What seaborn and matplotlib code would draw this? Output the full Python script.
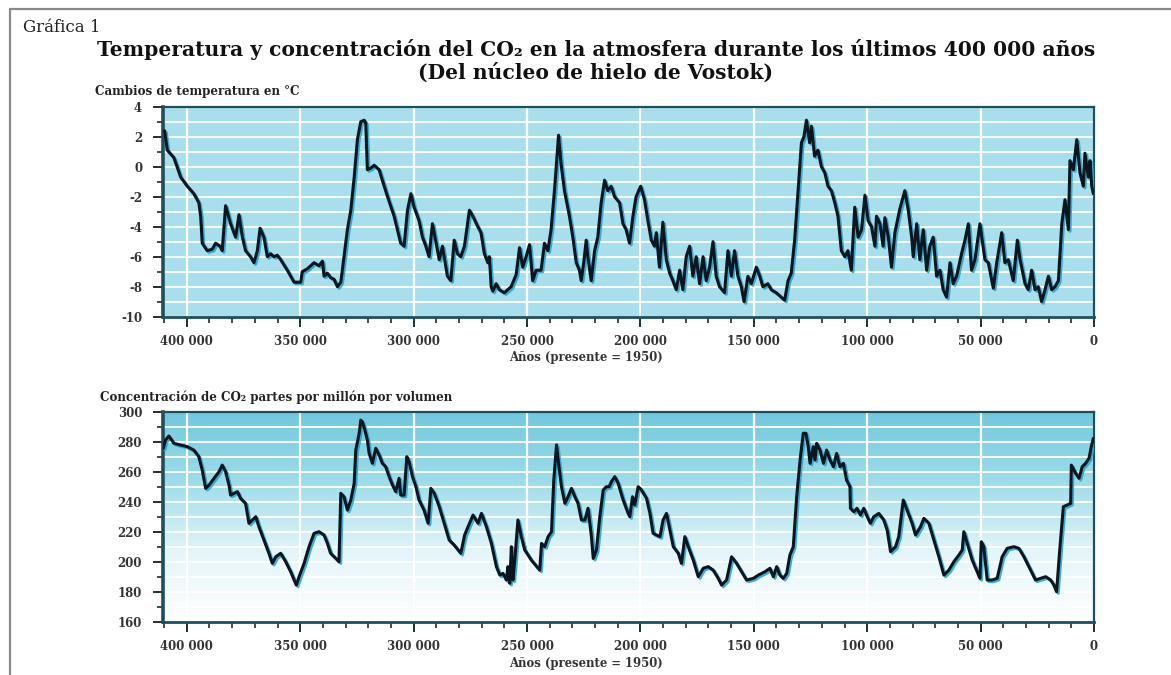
import numpy as np
import pandas as pd
import seaborn as sns
import matplotlib
matplotlib.use("Agg")
import matplotlib.pyplot as plt
from matplotlib.ticker import MultipleLocator, FuncFormatter
import matplotlib.patheffects as pe
from matplotlib.lines import Line2D
from matplotlib.colors import LinearSegmentedColormap

# ---------------- data ----------------
temp_years = [409800, 408600, 405700, 402700, 399800, 396900, 394700, 393900, 393200, 391000,
              388800, 387300, 385400, 384400, 382900, 380700, 378500, 377000, 375500, 374100,
              371900, 370400, 368900, 367700, 366000, 364500, 363000, 361600, 360100, 358600,
              355700, 352700, 349800, 349100, 346800, 343900, 341700, 340200, 339500, 338000,
              336600, 335100, 333600, 332100, 330700, 329200, 327700, 326200, 324800, 323300,
              321800, 321100, 320400, 318900, 317400, 315200, 313800, 311500, 308600, 305700,
              304200, 302700, 301200, 299800, 297600, 296100, 294600, 293200, 291700, 290200,
              288700, 287300, 285100, 283600, 282100, 280700, 279200,
              277600, 275400, 273900, 271700, 270300, 268800, 267300, 266600, 265800, 265100,
              263600, 262200, 260000, 257000, 254800, 253300, 251900, 250400, 248900, 247500,
              246000, 243800, 242300, 240800, 239400, 237900, 236100, 235000, 233500, 231300,
              229800, 228300, 226900, 226100, 225000, 223900, 223200, 221700, 220200, 218800,
              217300, 215800, 214400, 212900, 211400, 209200, 207700, 206300, 204800, 203300,
              201900, 199900, 198200, 196700, 195200, 193800, 193000, 191600, 190100, 188600,
              187100, 185700, 184200, 182700, 181300, 179800, 178300, 176900, 175400, 173900,
              172400, 171000, 169500, 168000, 166600, 165100, 162900, 161400, 159900, 158500,
              157000, 155500, 154300, 152600, 151100, 148900, 147400, 146000, 143800, 142300,
              140100, 137900, 136400, 134900, 133500, 132000, 130500, 129000, 127900, 126800,
              125400, 124600, 123200, 121700, 120200, 118700, 117300, 115800, 114300, 112900,
              111400, 109900, 108500, 107000,
              105500, 104000, 102500, 101000, 99600, 98100, 96600, 95900, 94400, 93000,
              92200, 90700, 89300, 87800, 85600, 83400, 81900, 80400, 79700, 78200,
              76800, 75300, 73800, 72400, 70900, 69400, 67900, 66500, 65000, 63500,
              62100, 60600, 58400, 56900, 55400, 54000, 52500, 50300, 48100, 46600,
              44400, 42900, 40700, 39300, 37800, 35600, 33800, 32600, 30400, 29000,
              27500, 26000, 24600, 23100, 21600, 20100, 18700, 17200, 15700, 14200,
              12800, 11300, 10600, 9100, 7600, 6200, 4700, 4000, 2500, 1750,
              1000, 300]
temp_values = [2.4, 1.1, 0.6, -0.7, -1.3, -1.8, -2.4, -3.3, -5.1, -5.6,
               -5.5, -5.1, -5.3, -5.6, -2.6, -3.8, -4.7, -3.2, -4.7, -5.6,
               -6.0, -6.4, -5.6, -4.1, -4.7, -6.0, -5.8, -6.0, -5.9, -6.2,
               -6.9, -7.7, -7.7, -7.0, -6.8, -6.4, -6.6, -6.3, -7.3, -7.1,
               -7.4, -7.5, -8.0, -7.7, -6.0, -4.2, -2.9, -0.7, 1.8, 3.0,
               3.1, 2.9, -0.2, -0.1, 0.1, -0.2, -0.9, -2.0, -3.3, -5.1,
               -5.3, -2.9, -1.8, -2.7, -3.6, -4.7, -5.3, -6.0, -3.8, -5.0,
               -6.2, -5.3, -7.3, -7.6, -4.9, -5.8, -6.0,
               -5.3, -2.9, -3.3, -4.0, -4.4, -5.8, -6.4, -6.0, -8.0, -8.3,
               -7.8, -8.2, -8.4, -8.0, -7.2, -5.4, -6.7, -6.0, -5.2, -7.6,
               -6.9, -6.9, -5.1, -5.6, -4.2, -1.6, 2.1, 0.2, -1.6, -3.3,
               -4.7, -6.4, -6.9, -7.6, -6.4, -4.9, -6.0, -7.6, -5.6, -4.7,
               -2.4, -0.9, -1.6, -1.3, -2.0, -2.4, -3.8, -4.2, -5.1, -3.3,
               -2.0, -1.3, -2.2, -3.6, -4.9, -5.3, -4.4, -6.7, -3.7, -6.2,
               -7.1, -7.6, -8.2, -6.9, -8.2, -6.0, -5.3, -7.3, -6.0, -7.8,
               -6.0, -7.6, -6.7, -5.0, -7.3, -8.0, -8.4, -5.6, -7.3, -5.6,
               -7.3, -8.0, -9.0, -7.3, -7.8, -6.7, -7.3, -8.0, -7.8, -8.2,
               -8.4, -8.7, -8.9, -7.6, -7.1, -4.9, -1.6, 1.6, 2.0, 3.1,
               1.6, 2.7, 0.7, 1.1, 0.0, -0.4, -1.3, -1.6, -2.4, -3.3,
               -5.6, -6.0, -5.6, -6.9,
               -2.7, -4.7, -4.2, -1.9, -3.6, -4.0, -5.3, -3.3, -3.8, -5.3,
               -3.4, -4.7, -6.7, -4.4, -2.8, -1.6, -2.9, -4.7, -6.0, -3.8,
               -6.2, -4.2, -6.9, -5.3, -4.7, -7.3, -6.9, -8.2, -8.7, -6.4,
               -7.8, -7.3, -5.8, -4.9, -3.8, -6.9, -6.2, -3.8, -6.2, -6.4,
               -8.1, -6.4, -4.4, -6.4, -6.2, -7.6, -4.9, -6.2, -7.8, -8.2,
               -6.9, -8.2, -8.0, -9.0, -8.2, -7.3, -8.2, -8.0, -7.6, -3.8,
               -2.2, -4.2, 0.4, -0.2, 1.8, -0.4, -1.3, 0.9, -0.7, 0.4,
               -1.3, -1.8]

co2_years = [410400, 409400, 407900, 405700, 402700, 399800, 396900, 394700, 393200, 391700,
             390200, 388000, 385800, 384400, 382900, 381400, 380700, 379200, 377700, 376300,
             374100, 372600, 371100, 369600, 368200, 366000, 363800, 362300, 360800, 358600,
             356400, 354200, 352700, 351700, 350500, 348300, 346100, 343900, 341700, 339500,
             338000, 336600, 334300, 332900, 332100, 330700, 329200, 327700, 326200, 325500,
             324000, 323300, 322600, 321500, 320400, 319600, 318200, 316700, 315200, 313800,
             312300, 310800, 309300, 307900, 306400, 305700, 304200, 303000, 302000, 300500,
             299000, 297600, 295400, 293600, 292400, 290900, 288700, 286500, 284300, 282100,
             279200,
             277500, 276000, 273800, 271600, 270100, 267900, 265700, 263500, 262000, 260600,
             259100, 258400, 257600, 256900, 256200, 255400, 254000, 252500, 251000, 248100,
             244400, 243600, 242200, 240700, 239200, 238200, 237000, 235900, 234800, 233300,
             231900, 230400, 228900, 227500, 226000, 224500, 223100, 221600, 220800, 219400,
             217900, 216400, 215000, 213800, 212800, 211300, 209800, 207600, 205400, 204700,
             203500, 202500, 201000, 199500, 197300, 195800, 194400, 191400, 190000, 188500,
             187000, 185500, 183300, 181900, 180400, 178900, 176700, 174500, 172300, 170100,
             167900, 165700, 164200, 162000, 159800, 157600, 155400, 153200, 150200, 148000,
             145100, 142900, 141400, 139900, 138500, 137000, 135500, 134100, 132600, 131100,
             129600, 128200, 127000, 126000, 125200, 123800, 123000, 122300, 120800, 119300,
             117900, 116400, 114900, 113500, 112000, 110500, 109100, 107600,
             107400, 105900, 104500, 103000, 101500, 100000, 98600, 97100, 94900, 92700,
             91200, 89700, 87500, 86100, 84100, 82400, 80200, 78700, 76500, 75000,
             72800, 70600, 68400, 66200, 64000, 61800, 59600, 58100, 57400, 55900,
             53700, 51500, 50300, 49700, 48600, 47100, 44900, 42700, 40500, 38300,
             35300, 33100, 30900, 28000, 25800, 23500, 21300, 19100, 17700, 16500,
             15000, 13500, 11800, 10300, 10000, 8100, 6600, 5200, 3700, 2200,
             1200, 300]
co2_values = [275.6, 281.1, 283.8, 278.9, 277.8, 276.7, 274.4, 270.0, 261.1, 248.9,
              251.1, 255.6, 260.0, 264.4, 260.0, 251.1, 244.4, 245.6, 246.7, 242.2,
              238.9, 225.6, 227.8, 230.0, 223.3, 214.4, 205.6, 198.9, 203.3, 205.6,
              200.0, 193.3, 187.8, 184.4, 190.0, 198.9, 210.0, 218.9, 220.0, 217.8,
              212.2, 205.6, 202.2, 200.0, 245.6, 243.3, 234.4, 241.1, 252.2, 274.4,
              285.6, 294.4, 293.3, 287.8, 281.1, 272.2, 265.6, 275.6, 271.1, 265.6,
              263.3, 256.7, 251.1, 246.7, 255.6, 244.4, 244.4, 270.0, 266.7, 256.7,
              250.0, 241.1, 234.4, 225.6, 248.9, 245.6, 236.7, 225.6, 214.4, 211.1,
              205.6,
              217.8, 223.3, 231.1, 225.6, 232.2, 223.3, 212.2, 196.7, 191.1, 192.2,
              187.8, 196.7, 185.6, 210.0, 187.8, 201.1, 227.8, 216.7, 207.8, 201.1,
              194.4, 212.2, 210.0, 216.7, 220.0, 254.4, 277.8, 263.3, 250.0, 238.9,
              243.3, 248.9, 243.3, 238.9, 227.8, 227.8, 235.6, 216.7, 202.2, 207.8,
              230.0, 247.8, 250.0, 250.0, 253.3, 256.7, 252.2, 241.1, 232.2, 230.0,
              243.3, 237.8, 250.0, 247.8, 242.2, 232.2, 218.9, 216.7, 227.8, 232.2,
              221.1, 210.0, 205.6, 198.9, 216.7, 210.0, 201.1, 190.0, 195.6, 196.7,
              194.4, 188.9, 184.4, 187.8, 203.3, 198.9, 193.3, 187.8, 188.9, 191.1,
              193.3, 195.6, 190.0, 196.7, 191.1, 188.9, 192.2, 204.4, 210.0, 243.3,
              267.8, 285.6, 285.6, 276.7, 265.6, 276.7, 267.8, 278.9, 274.4, 265.6,
              274.4, 267.8, 263.3, 272.2, 263.3, 265.6, 254.4, 250.0,
              235.6, 233.3, 235.6, 231.1, 235.6, 230.0, 225.6, 230.0, 232.2, 227.8,
              221.1, 206.7, 210.0, 216.7, 241.1, 234.4, 225.6, 217.8, 223.3, 228.9,
              225.6, 214.4, 203.3, 191.1, 194.4, 200.0, 204.4, 207.8, 220.0, 212.2,
              201.1, 193.3, 188.9, 213.3, 210.0, 187.8, 187.8, 188.9, 203.3, 208.9,
              210.0, 208.9, 203.3, 194.4, 187.8, 188.9, 190.0, 187.8, 184.4, 180.0,
              210.0, 236.7, 237.8, 238.9, 264.4, 258.9, 255.6, 263.3, 265.6, 268.9,
              276.7, 282.2]

temp_yticks = [-10, -8, -6, -4, -2, 0, 2, 4]
co2_yticks = [160, 180, 200, 220, 240, 260, 280, 300]
x_ticks = [400000, 350000, 300000, 250000, 200000, 150000, 100000, 50000, 0]

title_1 = "Temperatura y concentración del CO\u2082 en la atmosfera durante los últimos 400 000 años"
title_2 = "(Del núcleo de hielo de Vostok)"
label_temp = "Cambios de temperatura en °C"
label_co2 = "Concentración de CO\u2082 partes por millón por volumen"
label_x = "Años (presente = 1950)"

temp_df = pd.DataFrame({"year": temp_years, "value": temp_values})
co2_df = pd.DataFrame({"year": co2_years, "value": co2_values})

# ---------------- style ----------------
sns.set_theme(style="white")
plt.rcParams["font.family"] = ["DejaVu Serif", "DejaVu Sans"]
plt.rcParams["font.weight"] = "bold"
plt.rcParams["axes.unicode_minus"] = False

W, H = 1171, 675
fig = plt.figure(figsize=(W / 100, H / 100), dpi=100)
fig.patch.set_facecolor("white")

ax_left, ax_right = 163, 1094
ax1 = fig.add_axes([ax_left / W, 1 - 316.7 / H, (ax_right - ax_left) / W, 210 / H])
ax2 = fig.add_axes([ax_left / W, 1 - 621.7 / H, (ax_right - ax_left) / W, 210 / H])

spine_col = "#1d4f5e"
line_col = "#0b1620"
shadow = [pe.SimpleLineShadow(offset=(1.2, -1.2), shadow_color="#2fa6c8", alpha=0.9),
          pe.Normal()]

# background top: flat light blue
ax1.set_facecolor("#a9dfed")
# background bottom: gradient blue -> white
cmap = LinearSegmentedColormap.from_list("grad", ["#ffffff", "#e4f5fa", "#9fdcea", "#72c8de"])
grad = np.linspace(0, 1, 256).reshape(-1, 1)
ax2.imshow(grad, extent=[0, 1, 0, 1], transform=ax2.transAxes, cmap=cmap,
           aspect="auto", origin="lower", zorder=0)

sns.lineplot(data=temp_df, x="year", y="value", ax=ax1, color=line_col, lw=2.2,
             estimator=None, sort=False, path_effects=shadow, zorder=3)
sns.lineplot(data=co2_df, x="year", y="value", ax=ax2, color=line_col, lw=2.2,
             estimator=None, sort=False, path_effects=shadow, zorder=3)

fmt = FuncFormatter(lambda v, p: f"{int(round(v)):,}".replace(",", " "))

for ax, (ylo, yhi), yticks, ymin in [(ax1, (-10, 4), temp_yticks, 1),
                                      (ax2, (160, 300), co2_yticks, 10)]:
    ax.set_xlim(410500, 0)
    ax.set_ylim(ylo, yhi)
    ax.set_xticks(x_ticks)
    ax.xaxis.set_major_formatter(fmt)
    ax.xaxis.set_minor_locator(MultipleLocator(10000))
    ax.set_yticks(yticks)
    ax.yaxis.set_minor_locator(MultipleLocator(ymin))
    ax.set_xlabel("")
    ax.set_ylabel("")
    ax.set_axisbelow(True)
    ax.grid(True, which="major", axis="x", color="white", lw=1.6)
    ax.grid(True, which="both", axis="y", color="white", lw=1.3)
    ax.tick_params(axis="both", which="major", direction="out", length=7, width=1.4,
                   color="#1d2f38", labelsize=8.5, labelcolor="#333333",
                   bottom=True, left=True)
    ax.tick_params(axis="x", which="major", pad=6)
    ax.tick_params(axis="y", which="major", pad=8)
    ax.tick_params(axis="both", which="minor", direction="out", length=4, width=1.2,
                   color="#1d2f38", bottom=True, left=True)
    for side, lw in [("left", 2.6), ("bottom", 2.0), ("top", 1.6), ("right", 1.6)]:
        ax.spines[side].set_visible(True)
        ax.spines[side].set_color(spine_col)
        ax.spines[side].set_linewidth(lw)

# ---------------- texts ----------------
fig.text(23 / W, 1 - 28 / H, "Gráfica 1", fontsize=12, fontweight="normal",
         ha="left", va="center", color="#222222")
fig.text(596 / W, 1 - 49 / H, title_1, fontsize=14.6, fontweight="bold",
         ha="center", va="center", color="#111111")
fig.text(596 / W, 1 - 73 / H, title_2, fontsize=14.6, fontweight="bold",
         ha="center", va="center", color="#111111")
fig.text(95 / W, 1 - 92 / H, label_temp, fontsize=8.6, fontweight="bold",
         ha="left", va="center", color="#222222")
fig.text(100 / W, 1 - 397 / H, label_co2, fontsize=8.6, fontweight="bold",
         ha="left", va="center", color="#222222")
fig.text(586 / W, 1 - 358 / H, label_x, fontsize=8.4, fontweight="bold",
         ha="center", va="center", color="#333333")
fig.text(586 / W, 1 - 663 / H, label_x, fontsize=8.4, fontweight="bold",
         ha="center", va="center", color="#333333")

# frame lines (gray border top and left)
fig.add_artist(Line2D([10 / W, 1.0], [1 - 9 / H, 1 - 9 / H], color="#8a8a8a", lw=1.6,
                      transform=fig.transFigure))
fig.add_artist(Line2D([10 / W, 10 / W], [1 - 9 / H, 0.0], color="#8a8a8a", lw=1.6,
                      transform=fig.transFigure))

fig.savefig("out.png", dpi=100)
